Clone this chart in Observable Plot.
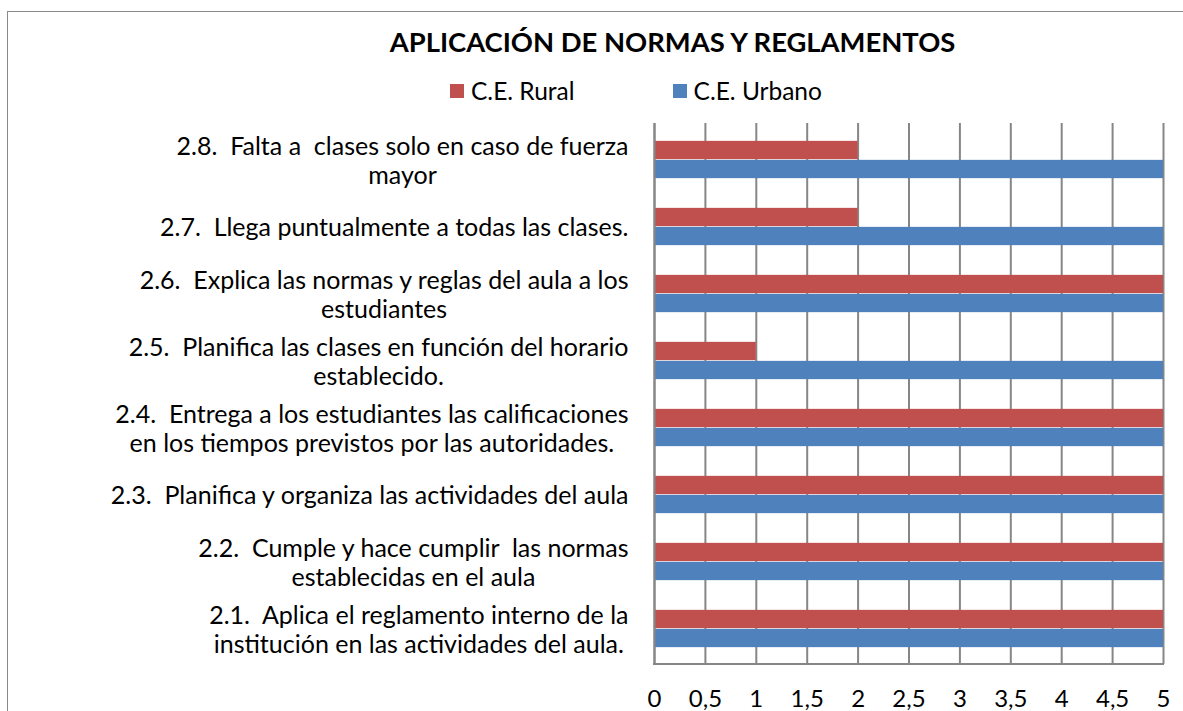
<!DOCTYPE html>
<html>
<head>
<meta charset="utf-8">
<script src="https://cdn.jsdelivr.net/npm/d3@7"></script>
<script src="https://cdn.jsdelivr.net/npm/@observablehq/plot@0.6"></script>
<style>
  html, body { margin: 0; padding: 0; background: #fff; width: 1183px; height: 711px; overflow: hidden; }
  body { position: relative; font-family: Lato, "Open Sans", sans-serif; color: #000; }
  #frame { position: absolute; left: 7px; top: 11px; width: 1200px; height: 720px; border: 1.5px solid #8a8a8a; box-sizing: border-box; }
  #title { position: absolute; left: 0; width: 1345px; top: 24px; text-align: center; font-weight: bold; font-size: 27.4px; line-height: 36px; }
  #legend { position: absolute; top: 76px; left: 450px; font-size: 24.5px; line-height: 30px; display: flex; }
  .item { display: flex; align-items: center; }
  .sw { width: 14px; height: 14px; display: inline-block; margin-right: 7px; }
  #chart { position: absolute; left: 0; top: 110px; }
</style>
</head>
<body>
<div id="frame"></div>
<div id="title">APLICACIÓN DE NORMAS Y REGLAMENTOS</div>
<div id="legend"></div>
<div id="chart"></div>
<script>
const categories = [
  "2.8.  Falta a  clases solo en caso de fuerza\nmayor",
  "2.7.  Llega puntualmente a todas las clases.",
  "2.6.  Explica las normas y reglas del aula a los\nestudiantes",
  "2.5.  Planifica las clases en función del horario\nestablecido.",
  "2.4.  Entrega a los estudiantes las calificaciones\nen los tiempos previstos por las autoridades.",
  "2.3.  Planifica y organiza las actividades del aula",
  "2.2.  Cumple y hace cumplir  las normas\nestablecidas en el aula",
  "2.1.  Aplica el reglamento interno de la\ninstitución en las actividades del aula."
];
const seriesNames = ["C.E. Rural", "C.E. Urbano"];
const seriesColors = ["#C0504D", "#4F81BD"];
const rural = [2, 2, 5, 1, 5, 5, 5, 5];
const urbano = [5, 5, 5, 5, 5, 5, 5, 5];
const xTicks = [0, 0.5, 1, 1.5, 2, 2.5, 3, 3.5, 4, 4.5, 5];

// legend
const legend = document.getElementById("legend");
seriesNames.forEach((n, i) => {
  const d = document.createElement("div");
  d.className = "item";
  d.style.marginRight = i === 0 ? "98px" : "0";
  d.innerHTML = `<span class="sw" style="background:${seriesColors[i]}"></span><span>${n}</span>`;
  legend.appendChild(d);
});

const ruralData = categories.map((c, i) => ({cat: c, v: rural[i]}));
const urbanoData = categories.map((c, i) => ({cat: c, v: urbano[i]}));

const step = 541.6 / 8;
const barH = 19;
const inset = (step - barH) / 2;

const plot = Plot.plot({
  width: 1183,
  height: 601,
  marginLeft: 654,
  marginRight: 20,
  marginTop: 13,
  marginBottom: 47,
  style: {fontFamily: "Lato, 'Open Sans', sans-serif", fontSize: "25px", color: "#000", background: "transparent"},
  x: {domain: [0, 5], ticks: xTicks, label: null},
  y: {domain: categories, padding: 0, label: null},
  marks: [
    Plot.gridX(xTicks, {stroke: "#868686", strokeOpacity: 1, strokeWidth: 2}),
    Plot.barX(ruralData, {x: "v", y: "cat", fill: seriesColors[0], insetTop: inset, insetBottom: inset, dy: -barH / 2}),
    Plot.barX(urbanoData, {x: "v", y: "cat", fill: seriesColors[1], insetTop: inset, insetBottom: inset, dy: barH / 2}),
    Plot.ruleX([0], {stroke: "#868686", strokeWidth: 2}),
    Plot.axisX({ticks: xTicks, tickSize: 0, tickPadding: 25, tickFormat: d => String(d).replace(".", ","), fontSize: 24, label: null}),
    Plot.axisY({tickSize: 0, tickPadding: 26, fontSize: 25, lineHeight: 1.17, label: null})
  ]
});
document.getElementById("chart").appendChild(plot);

// bottom axis line drawn from the plot's own x scale
const xs = plot.scale("x");
const svg = d3.select(plot);
svg.append("line")
  .attr("x1", xs.apply(0) - 1).attr("x2", xs.apply(5) + 1)
  .attr("y1", 601 - 47).attr("y2", 601 - 47)
  .attr("stroke", "#868686").attr("stroke-width", 2);

// center multi-line y labels on their own width (Excel-style), keeping right edge
svg.selectAll("g[aria-label='y-axis tick label'] text").each(function() {
  const tspans = this.querySelectorAll("tspan");
  if (tspans.length < 2) return;
  const bb = this.getBBox();
  this.setAttribute("text-anchor", "middle");
  tspans.forEach(t => t.setAttribute("x", bb.x + bb.width / 2));
});
</script>
</body>
</html>
